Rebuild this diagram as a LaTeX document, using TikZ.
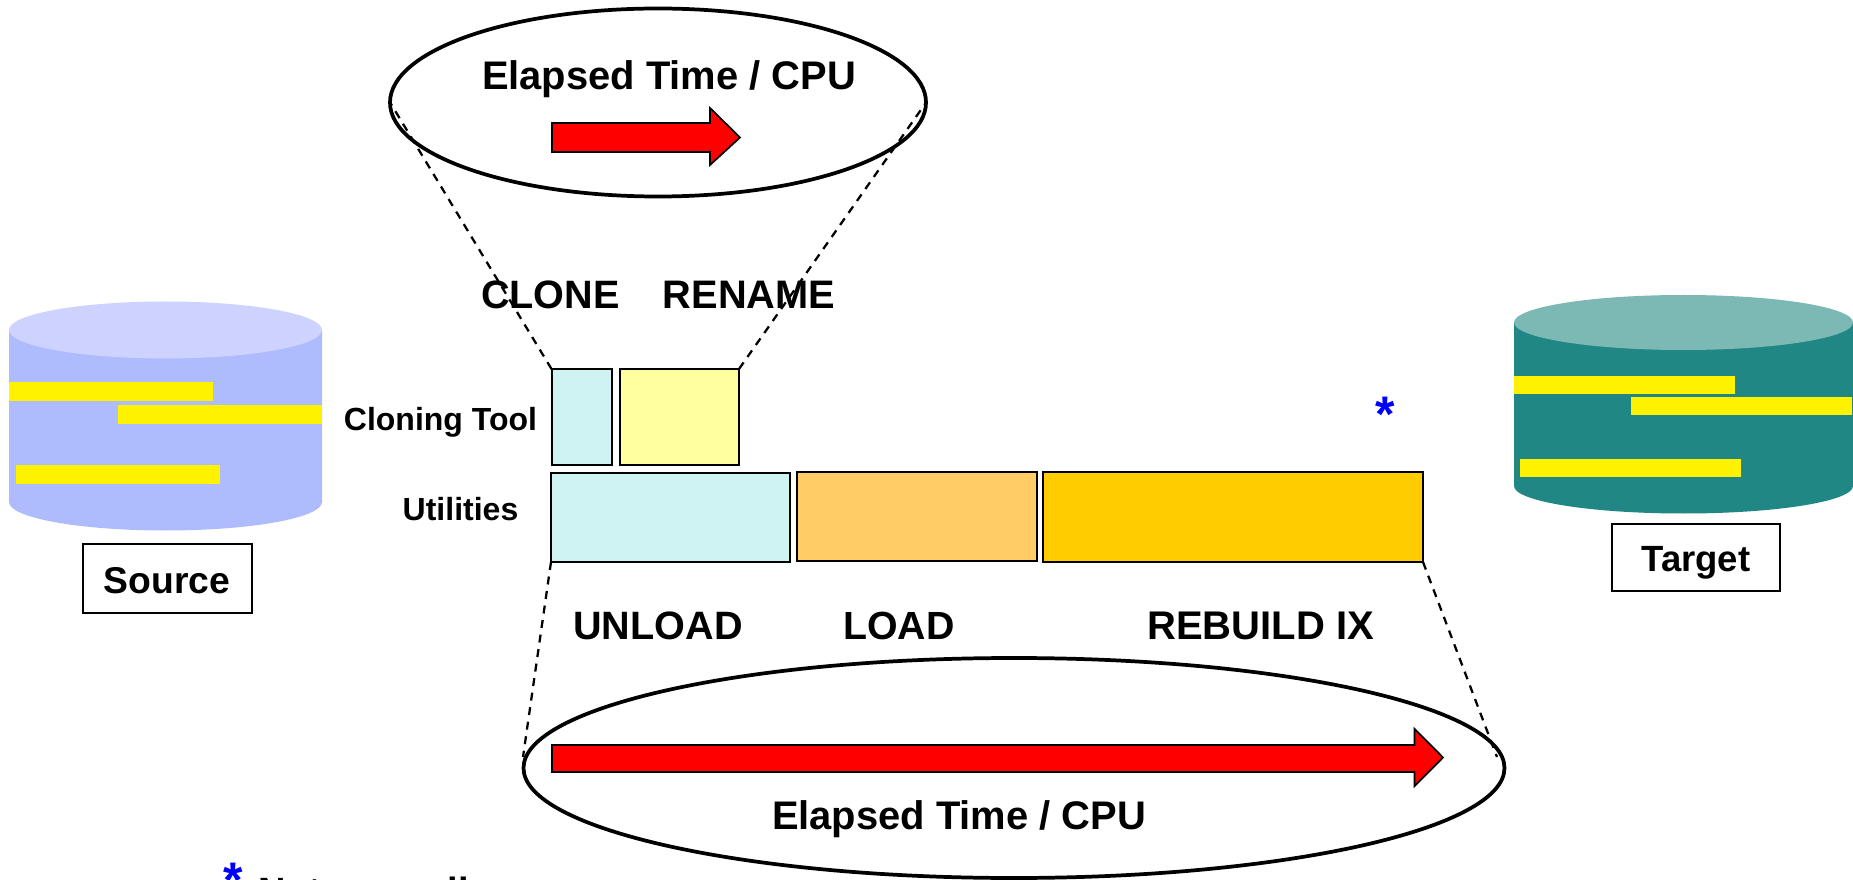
\documentclass[tikz,border=0pt]{standalone}
\usepackage{fontspec}
\setmainfont{Liberation Sans}
\usetikzlibrary{shapes.geometric}
\definecolor{srcbody}{HTML}{AEBBFC}
\definecolor{srctop}{HTML}{CDD3FE}
\definecolor{tgtbody}{HTML}{218784}
\definecolor{tgttop}{HTML}{7CB8B4}
\definecolor{cyanbox}{HTML}{CFF3F2}
\definecolor{yelbox}{HTML}{FFFFA0}
\definecolor{orabox}{HTML}{FFCC66}
\definecolor{goldbox}{HTML}{FFCC00}
\newcommand\pxfont[1]{\fontsize{\the\dimexpr#1pt*3/4\relax}{\the\dimexpr#1pt*3/4\relax}\selectfont}
\newcommand\boxnode[6][]{\node[blockbox,#1,minimum width={(#5-#3)*0.75pt},minimum height={(#6-#4)*0.75pt}] (#2) at ({(#3+#5)/2},{(#4+#6)/2}) {};}
\newcommand\cylinder[7]{%
  \fill[#1] (#2,#4) -- (#2,#5) arc[start angle=180,end angle=360,x radius={(#3-#2)/2*0.75pt},y radius={#6*0.75pt}] -- (#3,#4) -- cycle;
  \fill[#7] ({(#2+#3)/2},#4) ellipse[x radius={(#3-#2)/2*0.75pt},y radius={#6*0.75pt}];
}
\tikzset{
  x=0.75pt,y=-0.75pt,
  blockbox/.style={draw=black,line width=1.5pt,inner sep=0pt,outer sep=0pt},
  labelbox/.style={draw=black,line width=1.5pt,fill=white,inner sep=0pt,outer sep=0pt},
  bigoval/.style={ellipse,draw=black,line width=2.8pt,inner sep=0pt,outer sep=0pt},
  zoomline/.style={line width=1.7pt,dash pattern=on 6pt off 5pt},
  redarrow/.style={fill=red,draw=black,line width=1.3pt,line join=miter},
  bar/.style={fill=yellow},
  lab/.style={inner sep=0pt,outer sep=0pt,anchor=base,text=black},
  star/.style={font=\bfseries\pxfont{50},text=blue,inner sep=0pt,outer sep=0pt,anchor=base},
}
\begin{document}
\begin{tikzpicture}
\useasboundingbox (0,0) rectangle (1853,880);
\clip (0,0) rectangle (1853,880);
\fill[white] (0,0) rectangle (1853,880);
% Source cylinder
\cylinder{srcbody}{9}{322}{330}{502}{28.5}{srctop}
\fill[bar] (9,382) rectangle (213,401);
\fill[bar] (118,405) rectangle (322,424);
\fill[bar] (16,465) rectangle (220,484);
\boxnode[labelbox]{sourcebox}{83}{544}{252}{613}
\node[lab,font=\bfseries\pxfont{37.3}] (sourcelab) at (167,593) {Source};
% Target cylinder
\cylinder{tgtbody}{1514}{1853}{322.5}{486}{27.5}{tgttop}
\fill[bar] (1514,376) rectangle (1735,394);
\fill[bar] (1631,397) rectangle (1852,415);
\fill[bar] (1520,459) rectangle (1741,477);
\boxnode[labelbox]{targetbox}{1612}{524}{1780}{591}
\node[lab,font=\bfseries\pxfont{36.5}] (targetlab) at (1696,571) {Target};
% Blocks
\boxnode[fill=cyanbox]{clone}{551.5}{369}{612}{465}
\boxnode[fill=yelbox]{rename}{619.5}{369}{739}{465}
\boxnode[fill=cyanbox]{unload}{551}{472.5}{790}{562}
\boxnode[fill=orabox]{load}{797}{471.5}{1037}{561}
\boxnode[fill=goldbox]{rebuild}{1043}{471.5}{1423}{562}
% Ovals
\node[bigoval,minimum width={536*0.75pt},minimum height={188*0.75pt}] (topoval) at (658,102.5) {};
\node[bigoval,minimum width={981*0.75pt},minimum height={220*0.75pt}] (botoval) at (1014,768) {};
% Zoom lines
\coordinate (tl) at (391,104);
\coordinate (tr) at (925,104);
\coordinate (bl) at (523,757);
\coordinate (br) at (1497,757);
\draw[zoomline] (clone.north west) -- (tl);
\draw[zoomline] (rename.north east) -- (tr);
\draw[zoomline] (unload.south west) -- (bl);
\draw[zoomline] (rebuild.south east) -- (br);
% Arrows
\draw[redarrow] (552,123) -- (710,123) -- (710,108) -- (740,137.5) -- (710,165) -- (710,152) -- (552,152) -- cycle;
\draw[redarrow] (552,745) -- (1414.6,745) -- (1414.6,729) -- (1443,757.5) -- (1414.6,786) -- (1414.6,772) -- (552,772) -- cycle;
% Labels
\node[lab,font=\bfseries\pxfont{39.9}] (toptime) at (669,90) {Elapsed Time / CPU};
\node[lab,font=\bfseries\pxfont{39.9}] (bottime) at (959,829) {Elapsed Time / CPU};
\node[lab,font=\bfseries\pxfont{39.6}] (clonelab) at (550.5,309) {CLONE};
\node[lab,font=\bfseries\pxfont{39.8}] (renamelab) at (749,309) {RENAME};
\node[lab,font=\bfseries\pxfont{32}] (toollab) at (440.5,431) {Cloning Tool};
\node[lab,font=\bfseries\pxfont{32}] (utillab) at (460.5,520) {Utilities};
\node[lab,font=\bfseries\pxfont{39.6}] (unloadlab) at (658,639) {UNLOAD};
\node[lab,font=\bfseries\pxfont{39.3}] (loadlab) at (899,639) {LOAD};
\node[lab,font=\bfseries\pxfont{40}] (rebuildlab) at (1260.5,639) {REBUILD IX};
\node[star] (starone) at (1385,432) {*};
\node[star] (startwo) at (233,897) {*};
\node[lab,anchor=base west,font=\bfseries\pxfont{38}] (note) at (258,904) {Not normally};
\end{tikzpicture}
\end{document}
